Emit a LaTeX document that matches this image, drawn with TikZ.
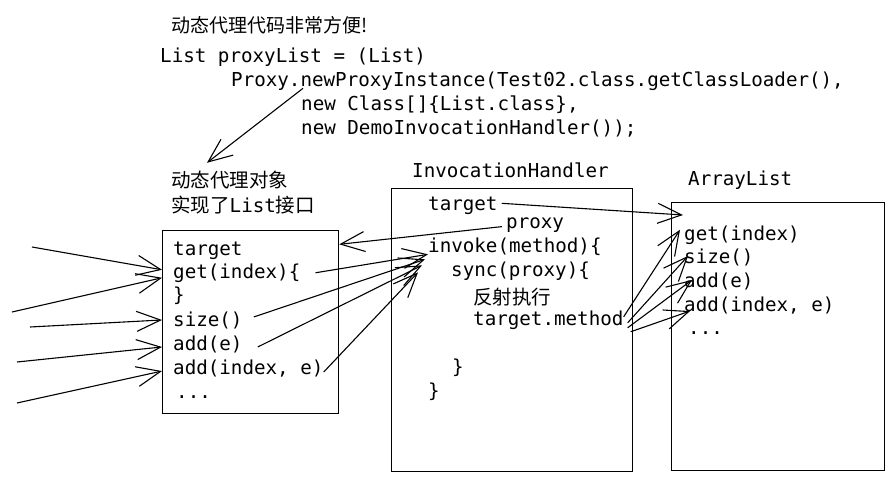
\documentclass[tikz,border=0pt]{standalone}
\usepackage{fontspec}
\setmonofont{DejaVu Sans Mono}
\newfontfamily\cjk{Noto Sans CJK SC}
\usetikzlibrary{arrows.meta,calc}
\tikzset{
  code/.style={inner sep=0pt, anchor=base west, font=\ttfamily\fontsize{19.2}{24}\selectfont},
  zh/.style={inner sep=0pt, anchor=west, font=\cjk\fontsize{19.5}{24}\selectfont},
  box/.style={draw, line width=1.3pt, inner sep=0pt, anchor=north west},
  arr/.style={line width=1.1pt, -{Straight Barb[length=24pt,width=20pt]}},
}
\begin{document}
\begin{tikzpicture}[x=1pt,y=-1pt]
\useasboundingbox (0,0) rectangle (892,479);
% top text
\node[zh, font=\cjk\fontsize{19}{24}\selectfont] (title) at (171,25) {动态代理代码非常方便!};
\node[code] (c1) at (160,62) {List proxyList = (List)};
\node[code] (c2) at (231,86) {Proxy.newProxyInstance(Test02.class.getClassLoader(),};
\node[code] (c3) at (301,110) {new Class[]\{List.class\},};
\node[code] (c4) at (301,134) {new DemoInvocationHandler());};
% proxy label
\node[zh] (z1) at (171,180) {动态代理对象};
\node[zh] (z2) at (171,205) {实现了{\ttfamily\fontsize{19.2}{24}\selectfont List}接口};
% boxes
\node[box, minimum width=176pt, minimum height=183pt] (lbox) at (162,230) {};
\node[box, minimum width=241pt, minimum height=283pt] (mbox) at (391,188) {};
\node[box, minimum width=213pt, minimum height=268pt] (rbox) at (671,202) {};
% left box text
\node[code] (ltarget) at (173,255) {target};
\node[code] (lget) at (173,278) {get(index)\{};
\node[code] (lclose) at (173,301) {\}};
\node[code] (lsize) at (173,326) {size()};
\node[code] (ladd) at (173,350) {add(e)};
\node[code] (laddi) at (173,374) {add(index, e)};
\node[code] (ldots) at (176,398) {...};
% middle box text
\node[code] (hlabel) at (412,177) {InvocationHandler};
\node[code] (mtarget) at (428,210) {target};
\node[code] (mproxy) at (506,228) {proxy};
\node[code] (minv) at (428,252) {invoke(method)\{};
\node[code] (msync) at (451,276) {sync(proxy)\{};
\node[zh] (mzh) at (473,297) {反射执行};
\node[code] (mtm) at (473,325) {target.method};
\node[code] (mc1) at (452,373) {\}};
\node[code] (mc2) at (428,397) {\}};
% right box text
\node[code] (alabel) at (688,185) {ArrayList};
\node[code] (rget) at (684,240) {get(index)};
\node[code] (rsize) at (684,263) {size()};
\node[code] (radd) at (684,287) {add(e)};
\node[code] (raddi) at (684,311) {add(index, e)};
\node[code] (rdots) at (688,334) {...};
% free ends
\coordinate (i1) at (32,247);
\coordinate (i2) at (12,312);
\coordinate (i3) at (30,327);
\coordinate (i4) at (17,362);
\coordinate (i5) at (17,403);
% arrows
\draw[arr] ([xshift=72pt,yshift=2pt]c2.south west) -- ([xshift=36pt,yshift=8pt]z1.north west);
\draw[arr] (i1) -- ([yshift=3pt]lbox.west |- lget);
\draw[arr] (i2) -- ([yshift=-5pt]lbox.west |- lget);
\draw[arr] (i3) -- (lbox.west |- lsize);
\draw[arr] (i4) -- ([yshift=-3pt]lbox.west |- ladd);
\draw[arr] (i5) -- ([yshift=-3pt]lbox.west |- laddi);
\draw[arr] ([xshift=15pt]lget.east) -- ([yshift=1pt]minv.south west);
\draw[arr] ([xshift=11pt,yshift=3pt]lsize.east) -- ([xshift=-3pt,yshift=-4pt]minv.south west);
\draw[arr] ([xshift=15pt,yshift=-3pt]ladd.east) -- ([xshift=-6pt,yshift=-10pt]minv.south west);
\draw[arr] ([yshift=-4pt]laddi.east) -- ([xshift=-10pt,yshift=-17pt]minv.south west);
\draw[arr] ([xshift=-4pt,yshift=-2pt]mproxy.west) -- ([yshift=6pt]lbox.east |- ltarget);
\draw[arr] ([xshift=4pt,yshift=2pt]mtarget.east) -- ([xshift=12pt,yshift=-13pt]rbox.north west);
\draw[arr] ([yshift=3pt]mtm.east) -- ([xshift=-4pt,yshift=5pt]rget.west);
\draw[arr] ([xshift=4pt,yshift=-3pt]mtm.east) -- ([xshift=4pt,yshift=1pt]rsize.west);
\draw[arr] ([xshift=4pt,yshift=-8pt]mtm.east) -- ([xshift=8pt,yshift=1pt]radd.west);
\draw[arr] ([xshift=7pt,yshift=-12pt]mtm.east) -- ([xshift=6pt,yshift=-6pt]raddi.west);
\end{tikzpicture}
\end{document}
